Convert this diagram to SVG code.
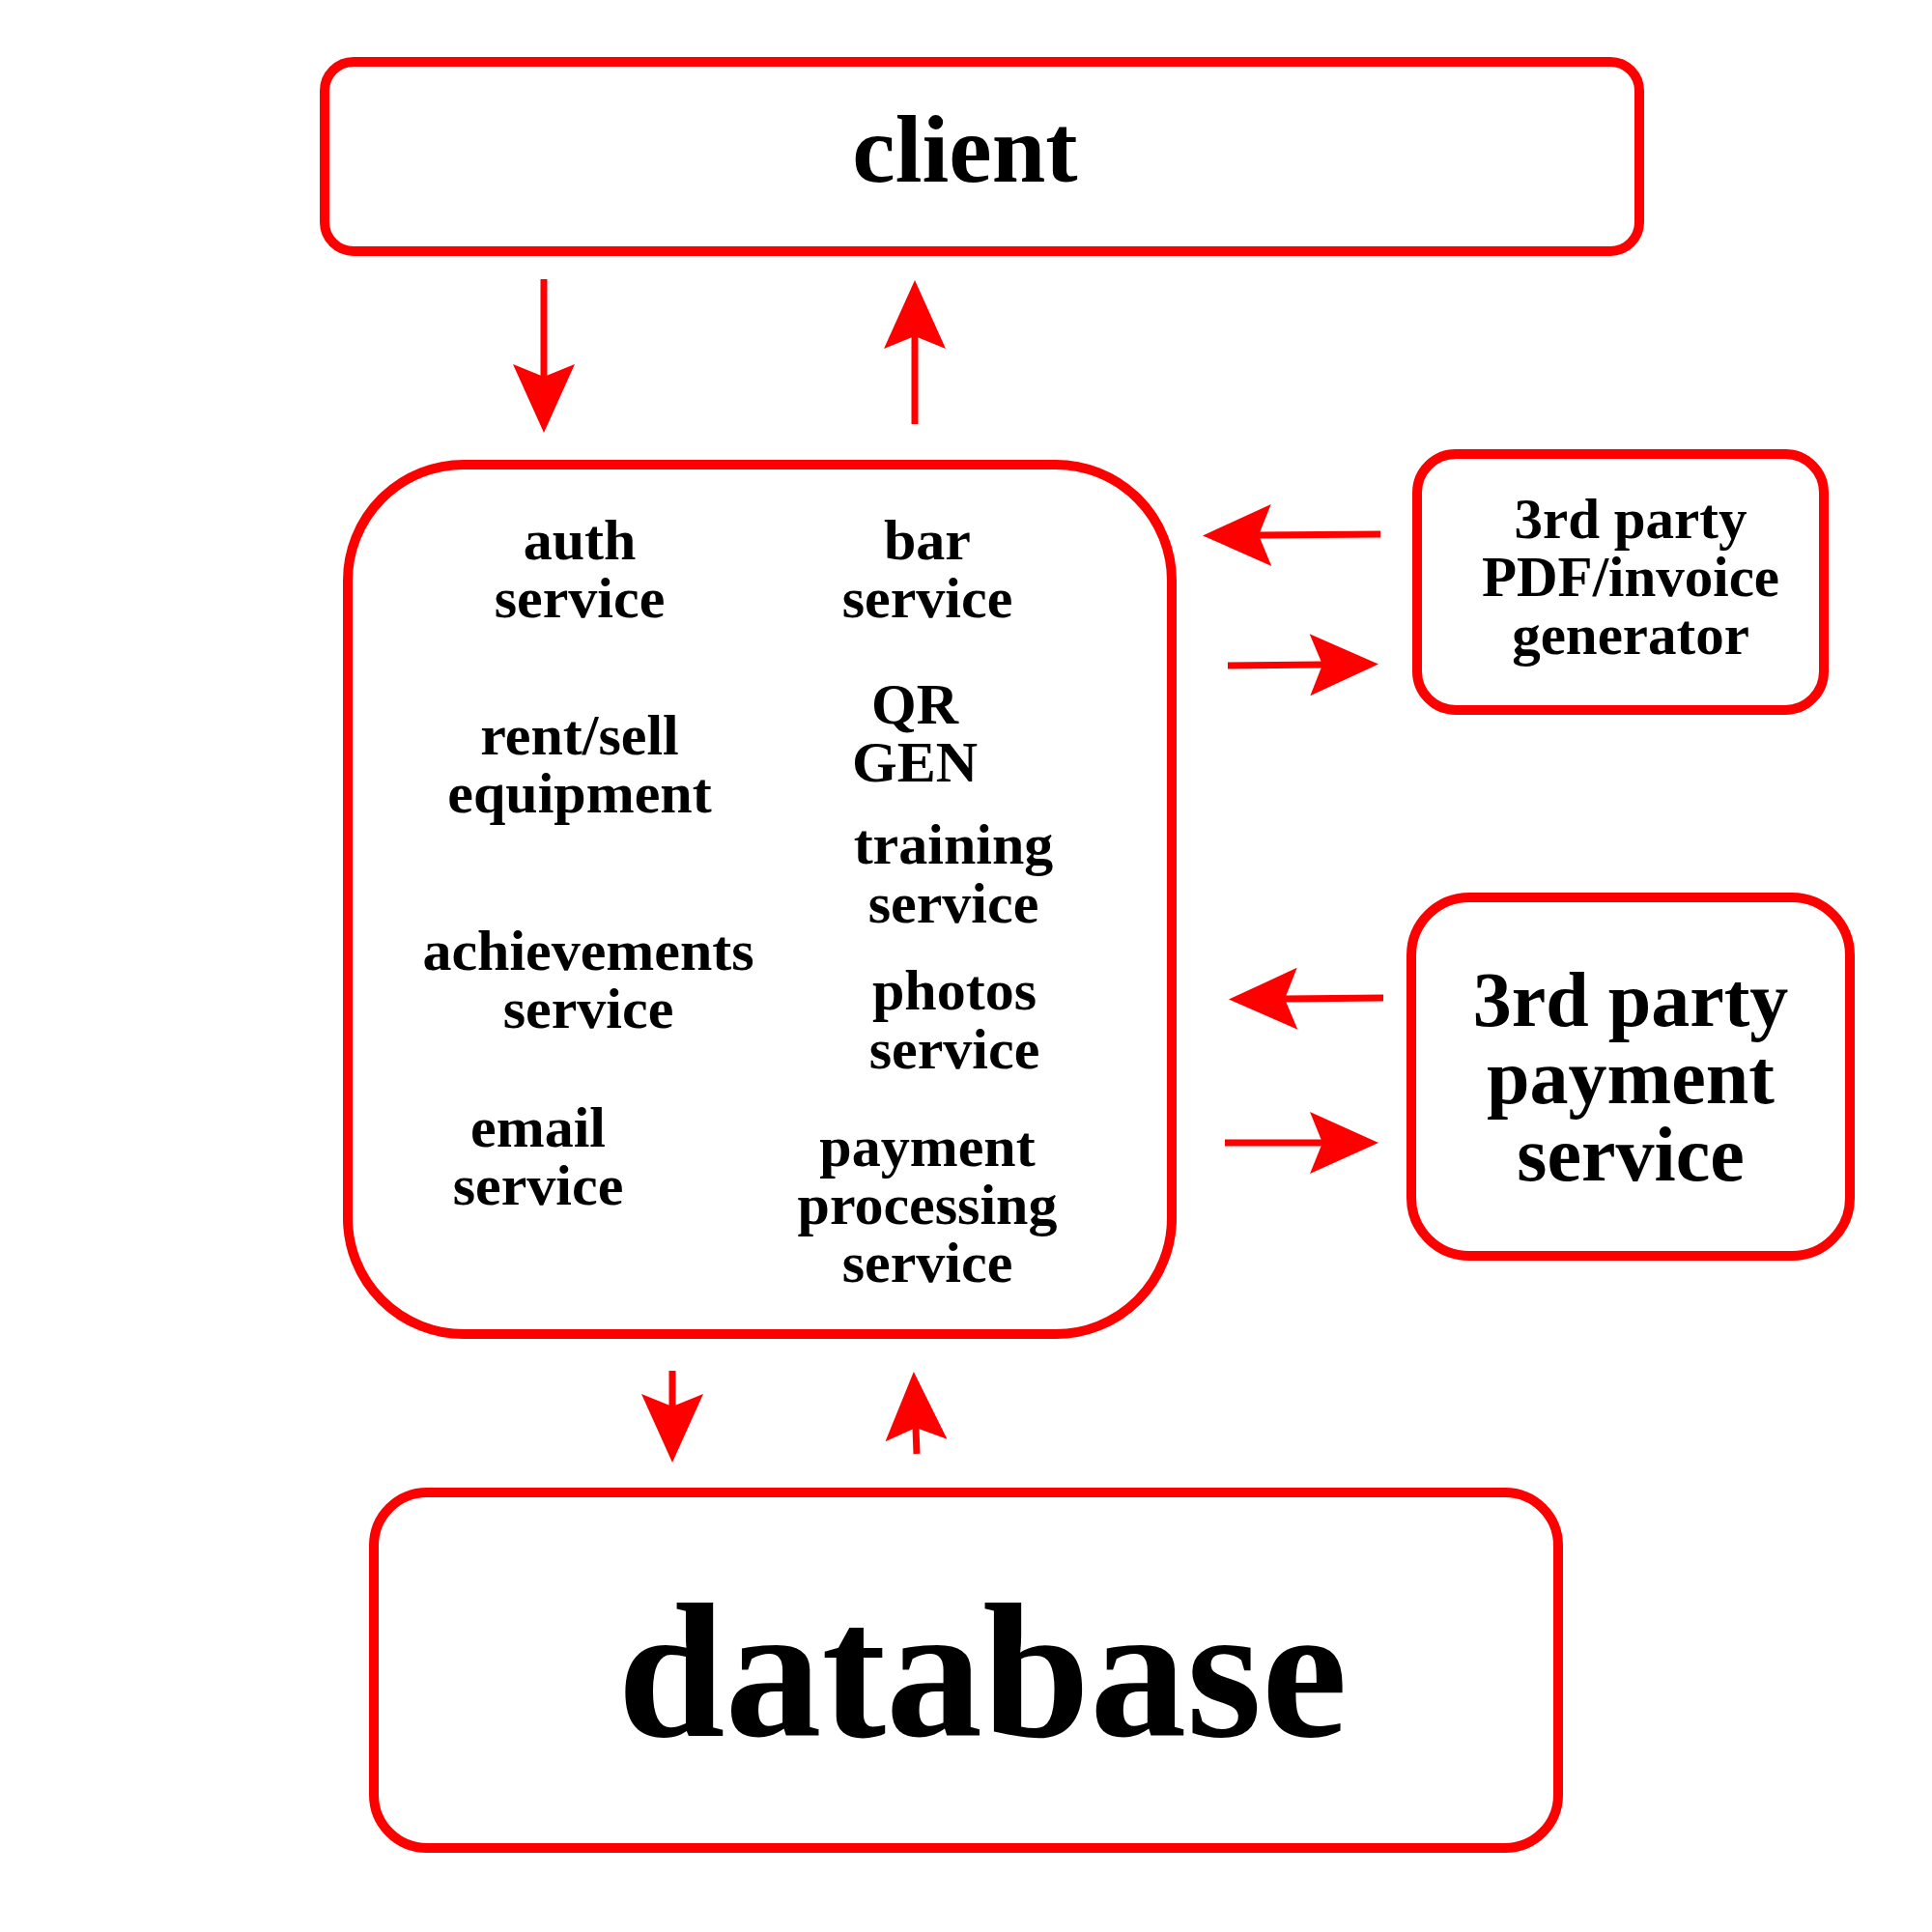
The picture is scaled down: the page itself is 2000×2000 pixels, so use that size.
<svg xmlns="http://www.w3.org/2000/svg" width="2000" height="2000" viewBox="0 0 2000 2000">
  <style>
    .box { fill: #ffffff; stroke: #ff0000; stroke-width: 10; }
    .lbl { font-family: "Liberation Serif", "Times New Roman", serif; font-weight: bold; fill: #000000; text-anchor: middle; }
    .s60 { font-size: 60px; }
    .conn { stroke: #ff0000; stroke-width: 7; fill: none; marker-end: url(#head); }
  </style>
  <defs>
    <marker id="head" markerUnits="userSpaceOnUse" viewBox="-75 -36 80 72" markerWidth="80" markerHeight="72" refX="-58" refY="0" orient="auto" overflow="visible">
      <path d="M0,0 L-71,-32 L-58,0 L-71,32 Z" fill="#ff0000" stroke="none"/>
    </marker>
  </defs>
  <rect width="2000" height="2000" fill="#ffffff"/>

  <g id="client">
    <rect class="box" x="336" y="64" width="1361" height="196" rx="30" ry="30"/>
    <text class="lbl" x="999" y="188" font-size="100">client</text>
  </g>

  <g id="services">
    <rect class="box" x="360" y="481" width="853" height="900" rx="120" ry="120"/>
    <text class="lbl s60" x="600" y="579">auth</text>
    <text class="lbl s60" x="600" y="639">service</text>
    <text class="lbl s60" x="960" y="579">bar</text>
    <text class="lbl s60" x="960" y="639">service</text>
    <text class="lbl s60" x="600" y="781">rent/sell</text>
    <text class="lbl s60" x="600" y="841">equipment</text>
    <text class="lbl s60" x="947" y="749">QR</text>
    <text class="lbl s60" x="947" y="809">GEN</text>
    <text class="lbl s60" x="987" y="894">training</text>
    <text class="lbl s60" x="987" y="955">service</text>
    <text class="lbl s60" x="609" y="1004">achievements</text>
    <text class="lbl s60" x="609" y="1064">service</text>
    <text class="lbl s60" x="988" y="1045">photos</text>
    <text class="lbl s60" x="988" y="1106">service</text>
    <text class="lbl s60" x="557" y="1187">email</text>
    <text class="lbl s60" x="557" y="1247">service</text>
    <text class="lbl s60" x="960" y="1207">payment</text>
    <text class="lbl s60" x="960" y="1267">processing</text>
    <text class="lbl s60" x="960" y="1327">service</text>
  </g>

  <g id="pdf-generator">
    <rect class="box" x="1467" y="470" width="421" height="265" rx="40" ry="40"/>
    <text class="lbl" x="1688" y="557" font-size="59">3rd party</text>
    <text class="lbl" x="1688" y="617" font-size="59">PDF/invoice</text>
    <text class="lbl" x="1688" y="677" font-size="59">generator</text>
  </g>

  <g id="payment-service">
    <rect class="box" x="1461" y="929" width="454" height="371" rx="60" ry="60"/>
    <text class="lbl" x="1688" y="1062" font-size="80">3rd party</text>
    <text class="lbl" x="1688" y="1142" font-size="80">payment</text>
    <text class="lbl" x="1688" y="1222" font-size="80">service</text>
  </g>

  <g id="database">
    <rect class="box" x="387" y="1545" width="1226" height="368" rx="55" ry="55"/>
    <text class="lbl" x="1017" y="1797" font-size="200">database</text>
  </g>

  <g id="connectors">
    <line class="conn" x1="563" y1="289" x2="563" y2="390"/>
    <line class="conn" x1="947" y1="439" x2="947" y2="348"/>
    <line class="conn" x1="1429" y1="553" x2="1303" y2="554"/>
    <line class="conn" x1="1271" y1="689" x2="1369" y2="688"/>
    <line class="conn" x1="1432" y1="1033" x2="1330" y2="1034"/>
    <line class="conn" x1="1268" y1="1183" x2="1369" y2="1183"/>
    <line class="conn" x1="696" y1="1419" x2="696" y2="1456"/>
    <line class="conn" x1="949" y1="1505" x2="948" y2="1478"/>
  </g>
</svg>
